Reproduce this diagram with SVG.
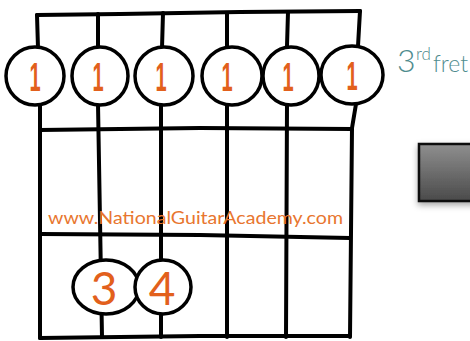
<svg xmlns="http://www.w3.org/2000/svg" width="470" height="341" viewBox="0 0 470 341">
<style>
.ln{fill:none;stroke:#000;stroke-width:4;stroke-linecap:round;stroke-linejoin:round}
.dot{fill:#fff;stroke:#000;stroke-width:3.5}
.one{font-family:"Liberation Sans",Arial,sans-serif;font-size:40px;font-weight:bold;fill:#e2601c;text-anchor:middle}
.big{font-family:"Lato","Liberation Sans",sans-serif;font-size:46px;fill:#e2601c;text-anchor:middle}
.url{font-family:"Lato","Liberation Sans",sans-serif;font-size:18px;fill:#e8762f}
.fret{font-family:"Lato","Liberation Sans",sans-serif;fill:#4f8c8e;font-weight:300}
</style>
<defs>
<linearGradient id="gb" x1="0" y1="0" x2="0" y2="1">
<stop offset="0" stop-color="#8f8f8f"/>
<stop offset="1" stop-color="#4a4a4a"/>
</linearGradient>
<filter id="sh" x="-20%" y="-20%" width="150%" height="150%">
<feDropShadow dx="0" dy="3" stdDeviation="3" flood-color="#000" flood-opacity="0.35"/>
</filter>
</defs>
<rect width="470" height="341" fill="#fff"/>
<g id="connectors">
<path class="ln" d="M37 15 L120 14 L240 12 L360 11"/>
<path class="ln" d="M37 15 L38 48"/>
<path class="ln" d="M98 14 L98 48"/>
<path class="ln" d="M163 13 L162 48"/>
<path class="ln" d="M227 13 L227 48"/>
<path class="ln" d="M288 12 L287 46"/>
<path class="ln" d="M360 11 L358 46"/>
<path class="ln" d="M40 104 L40 338"/>
<path class="ln" d="M98 104 L102 337"/>
<path class="ln" d="M161 104 L161 337"/>
<path class="ln" d="M227 104 L227 337"/>
<path class="ln" d="M287 104 L286 337"/>
<path class="ln" d="M356 104 L352 128 L350 337"/>
<path class="ln" d="M40 130 L200 128 L352 129"/>
<path class="ln" d="M40 234 L200 235 L350 238"/>
<path class="ln" d="M40 338 L200 336 L350 336"/>
</g>
<g id="f1"><ellipse class="dot" cx="35" cy="76" rx="29" ry="29"/><text class="one" transform="translate(35,91) scale(0.5,1)">1</text></g>
<g id="f2"><ellipse class="dot" cx="100" cy="76" rx="28" ry="29"/><text class="one" transform="translate(98,91) scale(0.5,1)">1</text></g>
<g id="f3"><ellipse class="dot" cx="164" cy="76" rx="29" ry="29"/><text class="one" transform="translate(161,91) scale(0.5,1)">1</text></g>
<g id="f4"><ellipse class="dot" cx="232" cy="76" rx="30" ry="29"/><text class="one" transform="translate(227,91) scale(0.5,1)">1</text></g>
<g id="f5"><ellipse class="dot" cx="291" cy="76" rx="28" ry="29"/><text class="one" transform="translate(288,91) scale(0.5,1)">1</text></g>
<g id="f6"><ellipse class="dot" cx="352" cy="75" rx="31" ry="29"/><text class="one" transform="translate(352,90) scale(0.5,1)">1</text></g>
<g id="f7"><ellipse class="dot" cx="106" cy="287" rx="33" ry="27"/><text class="big" x="104" y="305">3</text></g>
<g id="f8"><ellipse class="dot" cx="163" cy="287" rx="28" ry="27"/><text class="big" x="162" y="305">4</text></g>
<text class="url" x="48" y="224" textLength="295" lengthAdjust="spacingAndGlyphs">www.NationalGuitarAcademy.com</text>
<g id="label"><text class="fret" x="397" y="72" font-size="32">3</text><text class="fret" x="416" y="60" font-size="17">rd</text><text class="fret" x="433" y="72" font-size="23">fret</text></g>
<g id="box"><rect x="419" y="144" width="60" height="57" fill="url(#gb)" stroke="#111" stroke-width="2.5" filter="url(#sh)"/></g>
</svg>
